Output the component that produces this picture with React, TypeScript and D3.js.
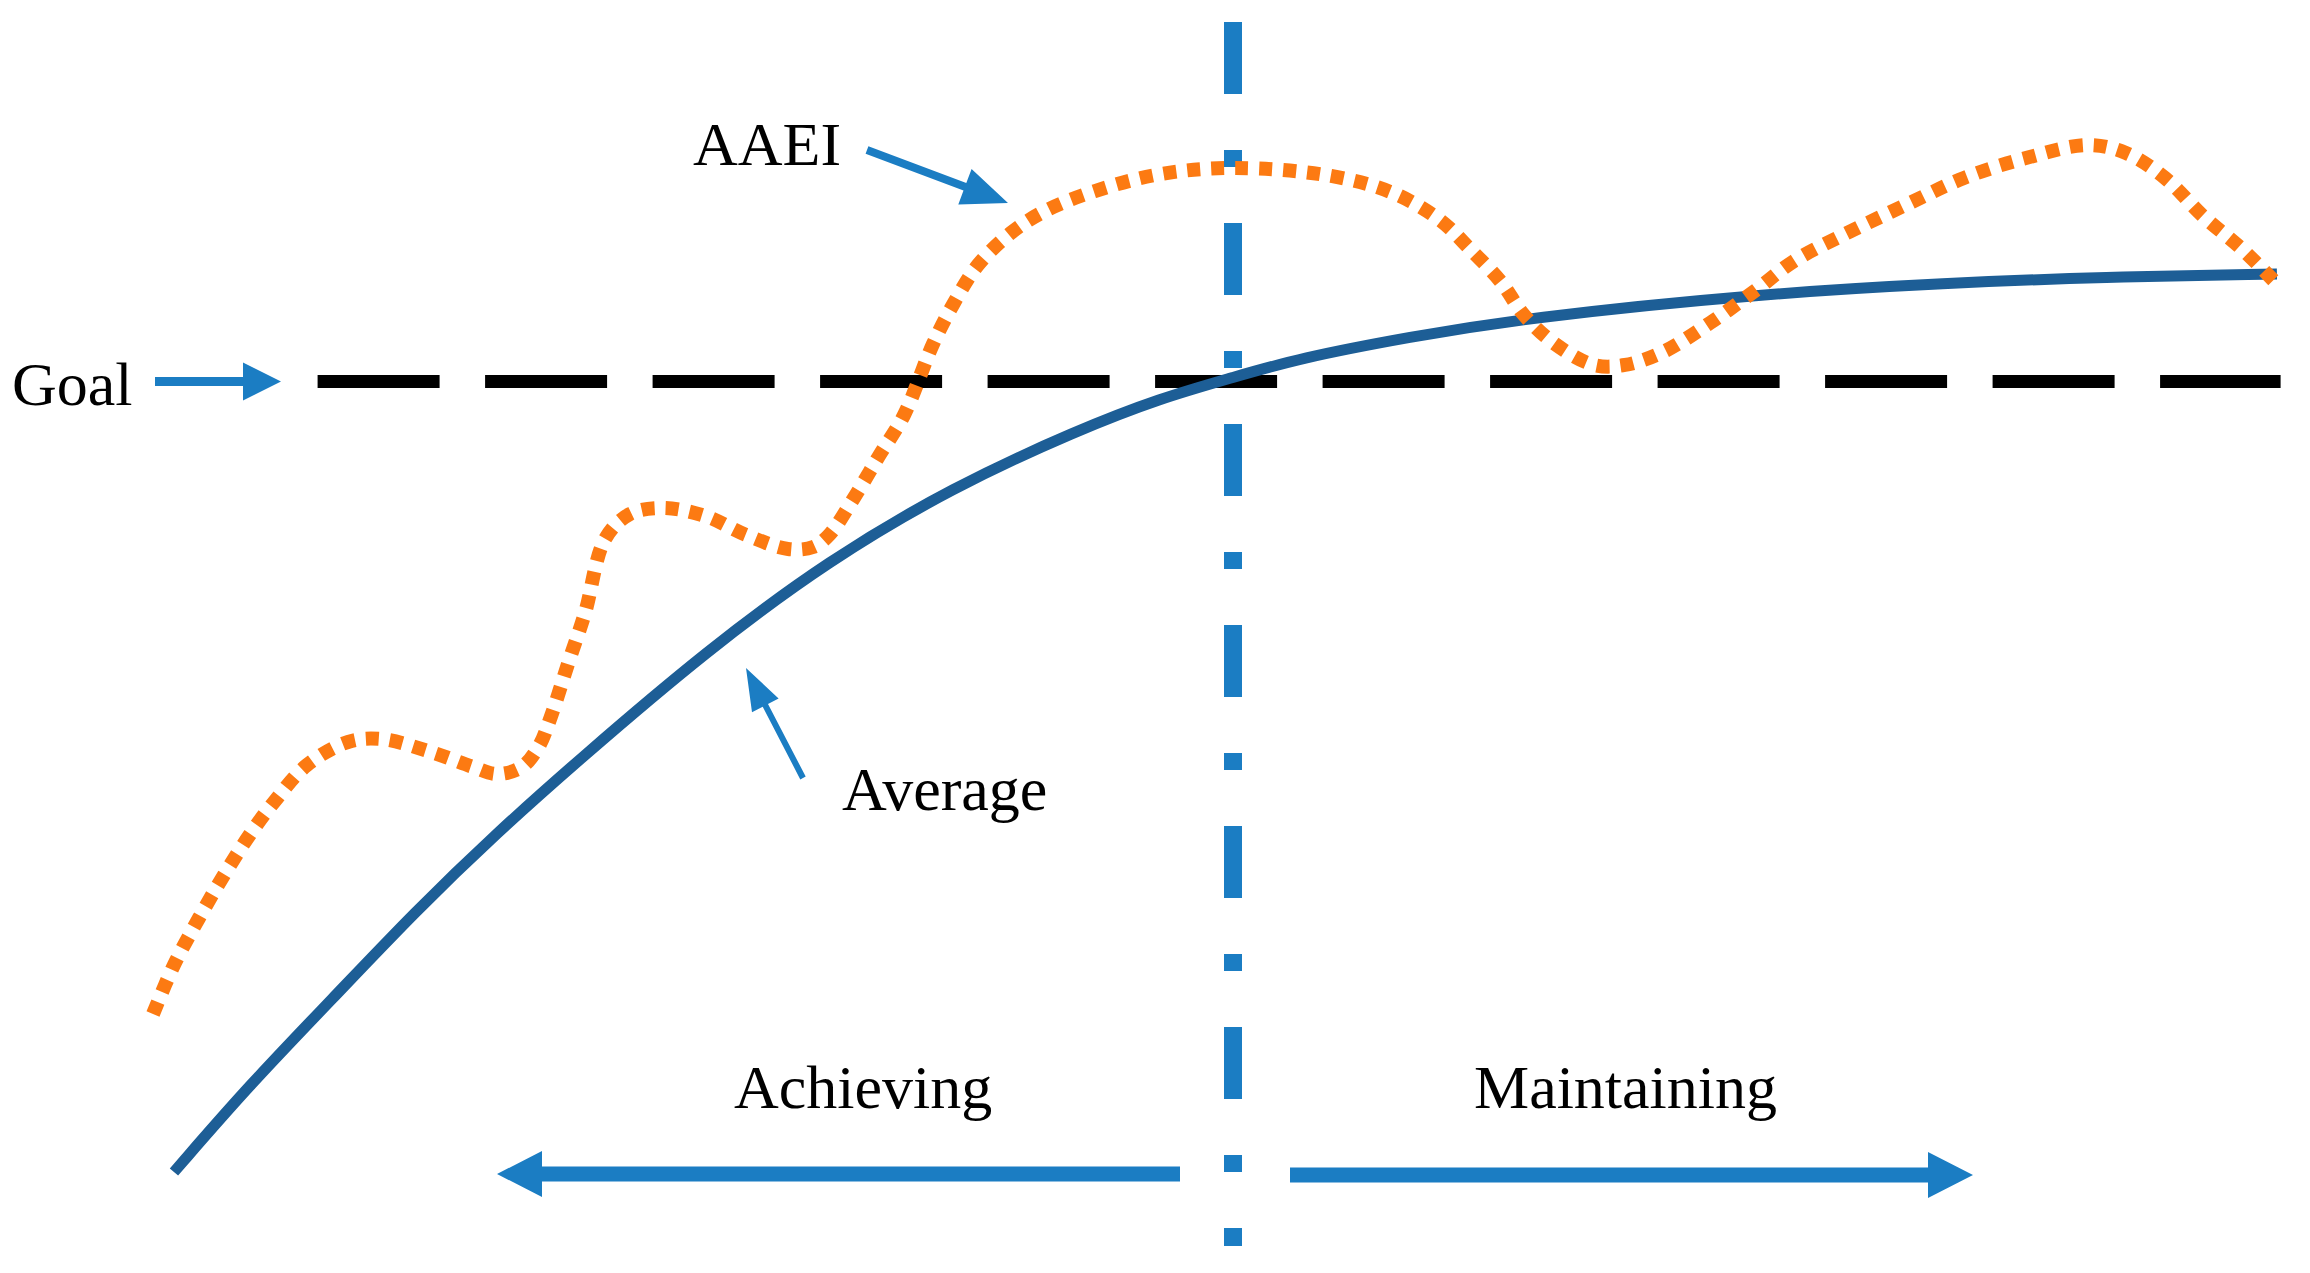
import React from "react";
import * as d3 from "d3";

// Time axis (0-100) and performance axis (0-100), abstract units
const avgT = [0.97, 4.44, 8.29, 12.13, 15.93, 19.77, 25.65, 31.3, 37.04, 42.82, 46.67, 49.91, 53.1, 58.15, 63.47, 74.21, 83.15, 90.28, 98.33];
const avgV = [0, 8.2, 16.4, 24.7, 32.2, 39.2, 49.5, 58.06, 64.99, 70.4, 73.43, 75.33, 77.23, 79.22, 81.02, 83.3, 84.35, 84.91, 85.2];

const aaeiT = [0, 0.97, 2.13, 3.29, 4.44, 5.6, 7.13, 9.03, 10.56, 12.87, 14.81, 15.93, 17.08, 17.87, 18.43, 19.21, 20.0, 20.93, 22.08, 23.61, 25.56, 27.45, 29.4, 30.56, 31.3, 32.45, 33.61, 34.77, 36.11, 37.08, 38.19, 39.77, 41.3, 43.61, 46.67, 50.09, 54.54, 57.41, 59.58, 60.97, 62.41, 63.47, 64.91, 66.71, 68.15, 69.91, 72.08, 74.21, 75.97, 78.15, 81.34, 83.84, 86.71, 89.58, 91.34, 93.15, 94.91, 96.71, 98.33];
const aaeiV = [14.99, 19.64, 24.1, 28.18, 31.88, 35.1, 38.61, 40.8, 41.08, 39.85, 38.43, 37.76, 38.43, 40.42, 43.26, 48.2, 53.04, 60.06, 62.43, 63.0, 62.24, 60.44, 59.11, 59.3, 60.44, 63.95, 67.93, 71.82, 78.56, 82.45, 86.05, 89.18, 91.18, 93.07, 94.69, 95.26, 94.5, 92.88, 90.32, 87.57, 84.44, 81.31, 78.56, 76.57, 76.57, 77.8, 80.55, 83.68, 86.43, 88.8, 91.94, 94.31, 96.2, 97.44, 96.68, 94.31, 90.7, 87.57, 84.25];

const goalValue = 75;
const phaseSplit = 50;
const goalStartT = 7.62;
const goalEndT = 98.5;
const labels = { goal: "Goal", aaei: "AAEI", average: "Average", achieving: "Achieving", maintaining: "Maintaining" };

const W = 2310;
const H = 1273;
const x = d3.scaleLinear().domain([0, 100]).range([153, 2313]);
const y = d3.scaleLinear().domain([0, 100]).range([1172, 118]);

const BLUE = "#1B7DC3";
const DARK = "#1D5E96";
const ORANGE = "#FC7A12";
const FONT = "'Liberation Serif', 'Times New Roman', serif";

function arrow(x1: number, y1: number, x2: number, y2: number, shaft: number, headLen: number, headHalf: number) {
  const dx = x2 - x1, dy = y2 - y1;
  const L = Math.hypot(dx, dy);
  const ux = dx / L, uy = dy / L;
  const px = -uy, py = ux;
  const bx = x2 - ux * headLen, by = y2 - uy * headLen;
  const s = shaft / 2;
  const pts = [
    [x1 + px * s, y1 + py * s],
    [bx + px * s, by + py * s],
    [bx + px * headHalf, by + py * headHalf],
    [x2, y2],
    [bx - px * headHalf, by - py * headHalf],
    [bx - px * s, by - py * s],
    [x1 - px * s, y1 - py * s],
  ];
  return "M" + pts.map((p) => p[0].toFixed(1) + "," + p[1].toFixed(1)).join("L") + "Z";
}

export default function App() {
  const smooth = d3
    .line<[number, number]>()
    .x((d) => x(d[0]))
    .y((d) => y(d[1]))
    .curve(d3.curveBasis);
  const line = d3
    .line<[number, number]>()
    .x((d) => x(d[0]))
    .y((d) => y(d[1]))
    .curve(d3.curveCatmullRom.alpha(0.5));
  const avgPts = avgT.map((t, i) => [t, avgV[i]] as [number, number]);
  const aaeiPts = aaeiT.map((t, i) => [t, aaeiV[i]] as [number, number]);
  const gy = y(goalValue);
  const vx = x(phaseSplit);
  const textStyle = { fontFamily: FONT, fontSize: 62, fill: "#000" } as const;

  return (
    <svg width={W} height={H} style={{ position: "absolute", left: 0, top: 0, background: "#fff" }}>
      <rect width={W} height={H} fill="#fff" />
      {/* Goal line */}
      <line x1={x(goalStartT)} x2={x(goalEndT)} y1={gy} y2={gy} stroke="#000" strokeWidth={13} strokeDasharray="122 45.5" />
      {/* Phase split */}
      <line x1={vx} x2={vx} y1={22} y2={1246} stroke={BLUE} strokeWidth={18} strokeDasharray="72 56 17 56" />
      {/* Average */}
      <path d={smooth(avgPts) || ""} fill="none" stroke={DARK} strokeWidth={11} />
      {/* AAEI */}
      <path d={line(aaeiPts) || ""} fill="none" stroke={ORANGE} strokeWidth={14} strokeDasharray="13 11" />
      {/* annotation arrows */}
      <path d={arrow(155, gy, 281, gy, 9, 38, 19)} fill={BLUE} />
      <path d={arrow(867, 150, 1008, 203, 8, 46, 19)} fill={BLUE} />
      <path d={arrow(803, 778, 746, 668, 6, 42, 15)} fill={BLUE} />
      <path d={arrow(1180, 1174, 497, 1174, 15, 45, 23)} fill={BLUE} />
      <path d={arrow(1290, 1175, 1973, 1175, 15, 45, 23)} fill={BLUE} />
      {/* labels */}
      <text x={12} y={405} {...textStyle}>{labels.goal}</text>
      <text x={693} y={165} {...textStyle}>{labels.aaei}</text>
      <text x={842} y={810} {...textStyle}>{labels.average}</text>
      <text x={734} y={1108} {...textStyle}>{labels.achieving}</text>
      <text x={1474} y={1108} {...textStyle}>{labels.maintaining}</text>
    </svg>
  );
}
